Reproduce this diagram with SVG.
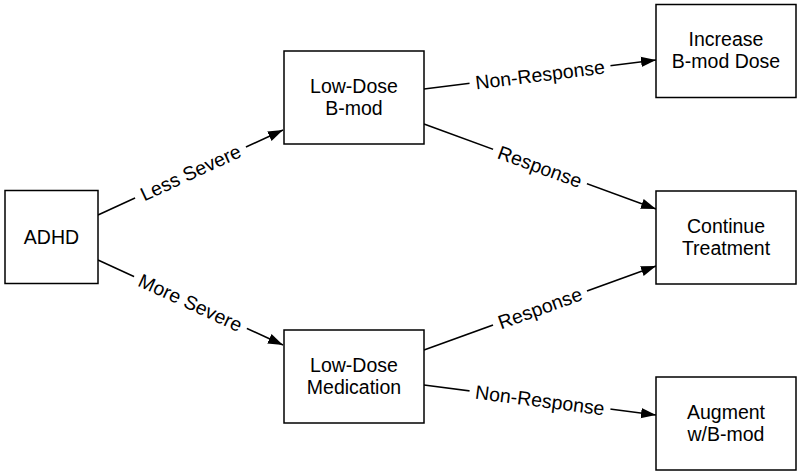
<svg xmlns="http://www.w3.org/2000/svg" width="800" height="474" viewBox="0 0 800 474">
<defs>
<marker id="arr" markerUnits="userSpaceOnUse" markerWidth="16" markerHeight="12" refX="15" refY="6" orient="auto">
<path d="M0,0.8 L15,6 L0,11.2 z" fill="#000"/>
</marker>
<style>
.box{fill:#fff;stroke:#000;stroke-width:1.5}
.t{font-family:"Liberation Sans",Arial,sans-serif;font-size:19.5px;fill:#000;text-anchor:middle}
.e{stroke:#000;stroke-width:1.5;fill:none;marker-end:url(#arr)}
.bg{fill:#fff}
</style>
</defs>
<rect width="800" height="474" fill="#fff"/>
<g id="connectors">
<line class="e" x1="98" y1="215" x2="283" y2="130"/>
<g transform="translate(190.5,172.5) rotate(-24.7)"><rect class="bg" x="-61" y="-11" width="122" height="22"/><text class="t" y="7">Less Severe</text></g>
<line class="e" x1="98" y1="260" x2="283" y2="345"/>
<g transform="translate(190.5,302.5) rotate(24.7)"><rect class="bg" x="-62" y="-11" width="124" height="22"/><text class="t" y="7">More Severe</text></g>
<line class="e" x1="424" y1="89" x2="656" y2="60"/>
<g transform="translate(540,74.5) rotate(-7.1)"><rect class="bg" x="-71" y="-11" width="142" height="22"/><text class="t" y="7">Non-Response</text></g>
<line class="e" x1="424" y1="124" x2="656" y2="209"/>
<g transform="translate(540,166.5) rotate(20.1)"><rect class="bg" x="-50" y="-11" width="100" height="22"/><text class="t" y="7">Response</text></g>
<line class="e" x1="424" y1="350" x2="656" y2="266"/>
<g transform="translate(540,308) rotate(-19.9)"><rect class="bg" x="-50" y="-11" width="100" height="22"/><text class="t" y="7">Response</text></g>
<line class="e" x1="424" y1="385" x2="656" y2="415"/>
<g transform="translate(540,400) rotate(7.4)"><rect class="bg" x="-71" y="-11" width="142" height="22"/><text class="t" y="7">Non-Response</text></g>
</g>
<g id="adhd"><rect class="box" x="5" y="190.5" width="93" height="93"/><text class="t" x="51.5" y="243.5">ADHD</text></g>
<g id="bmod"><rect class="box" x="284" y="51" width="140" height="93"/><text class="t" x="354" y="92.5">Low-Dose</text><text class="t" x="354" y="114.5">B-mod</text></g>
<g id="med"><rect class="box" x="284" y="330" width="140" height="93"/><text class="t" x="354" y="371.5">Low-Dose</text><text class="t" x="354" y="393.5">Medication</text></g>
<g id="increase"><rect class="box" x="656" y="4.5" width="140" height="93"/><text class="t" x="726" y="46">Increase</text><text class="t" x="726" y="68">B-mod Dose</text></g>
<g id="continue"><rect class="box" x="656" y="191" width="140" height="93"/><text class="t" x="726" y="232.5">Continue</text><text class="t" x="726" y="254.5">Treatment</text></g>
<g id="augment"><rect class="box" x="656" y="377" width="140" height="93"/><text class="t" x="726" y="418.5">Augment</text><text class="t" x="726" y="440.5">w/B-mod</text></g>
</svg>
